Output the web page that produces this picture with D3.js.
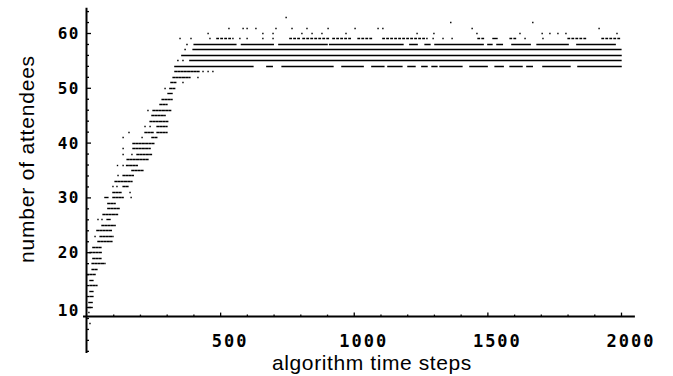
<!DOCTYPE html>
<html><head><meta charset="utf-8">
<script src="https://cdn.jsdelivr.net/npm/d3@7"></script>
<style>
html,body{margin:0;padding:0;background:#fff;}
svg{display:block;}
</style></head>
<body>
<svg id="chart" width="673" height="376"></svg>
<script>
// ---- data ----
const xMajorTicks = [500, 1000, 1500, 2000];
const xMinorTicks = [100,200,300,400,600,700,800,900,1100,1200,1300,1400,1600,1700,1800,1900];
const yMajorTicks = [10, 20, 30, 40, 50, 60];
const yMinorTicks = [2,4,6,8,12,14,16,18,22,24,26,28,32,34,36,38,42,44,46,48,52,54,56,58,62,64];
const xTickLabels = ["500", "1000", "1500", "2000"];
const yTickLabels = ["10", "20", "30", "40", "50", "60"];
const xTitle = "algorithm time steps";
const yTitle = "number of attendees";

// runs of points: [attendees, first time step, last time step]
const rampRuns = [
[7,13,13],[9,9,9],[10,9,21],[11,9,21],[12,13,24],[13,13,24],[14,13,39],[15,13,24],[16,2,32],[17,21,43],
[18,21,69],[19,24,58],[20,13,58],[21,24,58],[22,43,95],[23,32,32],[23,51,99],[24,39,95],[25,58,107],
[26,43,43],[26,58,58],[26,77,88],[27,62,118],[28,80,125],[29,80,107],[30,69,80],[30,99,137],[30,167,167],
[31,99,133],[31,163,163],[32,99,99],[32,114,114],[32,137,155],[33,107,170],[34,118,118],[34,137,175],
[35,170,211],[36,116,116],[36,137,137],[36,150,190],[37,152,230],[38,137,137],[38,170,170],[38,189,245],
[39,137,137],[39,174,238],[40,174,252],[41,137,137],[41,208,208],[41,245,264],[42,159,159],[42,219,249],
[42,264,301],[43,219,219],[43,238,238],[43,264,301],[44,238,305],[45,245,294],[46,230,230],[46,249,320],
[47,275,301],[48,283,320],[49,305,320],[50,294,294],[50,312,331],[51,316,339],[51,361,361],[52,324,387],
[52,417,417],[53,331,425],[53,436,436],[53,455,455],[53,473,473]
];
const plateauRuns = [
[54,331,623],[54,675,698],[54,732,922],[54,956,1035],[54,1068,1117],[54,1128,1180],[54,1203,1229],
[54,1255,1274],[54,1293,1311],[54,1323,1409],[54,1435,1499],[54,1529,1559],[54,1585,1633],[54,1648,1671],
[54,1708,1809],[54,1839,2000],
[55,342,342],[55,361,361],[55,387,2000],
[56,357,2000],
[57,369,369],[57,399,2000],
[58,376,376],[58,403,560],[58,580,700],[58,720,900],[58,910,1184],[58,1210,1237],[58,1267,1285],[58,1304,1484],
[58,1502,1517],[58,1536,1559],[58,1592,1660],[58,1686,1802],[58,1835,1978]
];
const sparseRuns = [
[59,350,350],[59,391,391],[59,462,462],[59,488,548],[59,574,574],[59,601,601],[59,660,660],[59,698,698],
[59,761,799],[59,810,911],[59,922,993],[59,1016,1072],[59,1109,1274],[59,1297,1297],[59,1334,1334],
[59,1368,1368],[59,1465,1491],[59,1521,1536],[59,1585,1611],[59,1641,1641],[59,1708,1708],[59,1802,1873],
[59,1929,1996],
[60,455,455],[60,660,660],[60,698,698],[60,806,806],[60,844,844],[60,881,881],[60,971,971],[60,1237,1237],
[60,1300,1300],[60,1461,1461],[60,1622,1622],[60,1705,1705],[60,1734,1734],[60,1764,1764],[60,1794,1794],
[60,1985,1985],
[61,533,533],[61,586,586],[61,601,601],[61,634,634],[61,709,709],[61,769,769],[61,825,825],[61,904,904],
[61,1005,1005],[61,1091,1091],[61,1109,1109],[61,1443,1443],[61,1918,1918],
[62,1363,1363],[62,1670,1670],
[63,747,747]
];

// ---- drawing ----
const svg = d3.select("#chart");
const x = d3.scaleLinear().domain([0, 2000]).range([86.5, 621]);
const y = d3.scaleLinear().domain([10, 60]).range([307, 33]);
const axisY = 8.25;   // value where horizontal axis crosses
const ink = "#000";

function drawRuns(runs, width, dash) {
  svg.append("g").selectAll("line").data(runs).join("line")
    .attr("x1", d => x(d[1]))
    .attr("x2", d => x(d[2]))
    .attr("y1", d => Math.round(y(d[0])) + 0.5)
    .attr("y2", d => Math.round(y(d[0])) + 0.5)
    .attr("stroke", ink)
    .attr("stroke-width", width)
    .attr("stroke-linecap", "square")
    .attr("stroke-dasharray", d => (d[2] - d[1] > 15 ? dash : null));
}
drawRuns(rampRuns, 1.4, "1.6 1.6");
drawRuns(plateauRuns, 1.5, "2 1.3");
drawRuns(sparseRuns, 1.4, "1.4 2.6");

// x axis (ticks pointing up)
const xg = svg.append("g").attr("transform", `translate(0,${y(axisY)})`);
xg.call(d3.axisBottom(x).tickValues(xMinorTicks).tickSize(-2).tickFormat(""));
xg.call(g => g.select(".domain").remove());
const xg2 = svg.append("g").attr("transform", `translate(0,${y(axisY)})`);
xg2.call(d3.axisBottom(x).tickValues(xMajorTicks).tickSize(-4).tickFormat(""));
xg2.call(g => g.select(".domain").remove());
svg.append("line")
  .attr("x1", x(-13)).attr("x2", x(2052))
  .attr("y1", y(axisY)).attr("y2", y(axisY))
  .attr("stroke", ink).attr("stroke-width", 2);

// y axis (ticks pointing right)
const yg = svg.append("g").attr("transform", `translate(${x(0)},0)`);
yg.call(d3.axisLeft(y).tickValues(yMinorTicks).tickSize(-2.5).tickFormat(""));
yg.call(g => g.select(".domain").remove());
const yg2 = svg.append("g").attr("transform", `translate(${x(0)},0)`);
yg2.call(d3.axisLeft(y).tickValues(yMajorTicks).tickSize(-4.5).tickFormat(""));
yg2.call(g => g.select(".domain").remove());
svg.append("line")
  .attr("x1", x(0)).attr("x2", x(0))
  .attr("y1", y(64.6)).attr("y2", y(1.6))
  .attr("stroke", ink).attr("stroke-width", 2);
svg.selectAll(".tick line").attr("stroke", ink).attr("stroke-width", 1.3);

// tick labels
svg.append("g").selectAll("text").data(xMajorTicks).join("text")
  .attr("x", d => x(d) + 10)
  .attr("y", y(axisY) + 30)
  .attr("text-anchor", "middle")
  .attr("font-family", "DejaVu Sans Mono")
  .attr("font-weight", "bold")
  .attr("font-size", 17)
  .attr("letter-spacing", 2)
  .attr("fill", ink)
  .text((d, i) => xTickLabels[i]);

svg.append("g").selectAll("text").data(yMajorTicks).join("text")
  .attr("x", 80)
  .attr("y", d => y(d) + 6 + (d === 10 ? 3 : 0))
  .attr("text-anchor", "end")
  .attr("font-family", "DejaVu Sans Mono")
  .attr("font-weight", "bold")
  .attr("font-size", 16)
  .attr("letter-spacing", 1.5)
  .attr("fill", ink)
  .text((d, i) => yTickLabels[i]);

// titles
svg.append("text")
  .attr("x", 372).attr("y", 370)
  .attr("text-anchor", "middle")
  .attr("font-family", "Liberation Sans, Arial, sans-serif")
  .attr("font-size", 21)
  .attr("letter-spacing", 0.6)
  .attr("fill", ink)
  .text(xTitle);

svg.append("text")
  .attr("transform", "translate(34,159) rotate(-90)")
  .attr("text-anchor", "middle")
  .attr("font-family", "Liberation Sans, Arial, sans-serif")
  .attr("font-size", 21)
  .attr("letter-spacing", 0.8)
  .attr("fill", ink)
  .text(yTitle);
</script>
</body></html>
